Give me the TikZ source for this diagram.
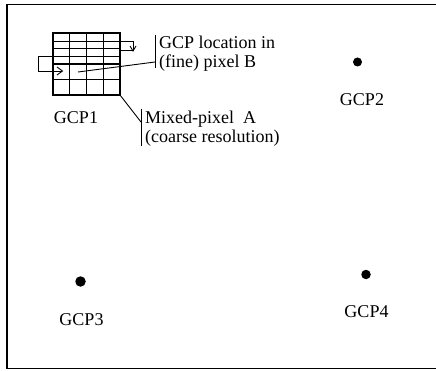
\documentclass[tikz,border=0pt]{standalone}
\usepackage{fontspec}
\setmainfont{Liberation Serif}
\usetikzlibrary{arrows.meta}
\tikzset{
  lbl/.style={font=\fontsize{18}{19}\selectfont, inner sep=0pt, align=left},
  gcpdot/.style={circle, fill=black, inner sep=0pt},
  gridline/.style={line width=1.1pt},
  gridframe/.style={line width=2pt},
  leader/.style={line width=0.9pt},
  scanline/.style={line width=0.9pt},
}
\begin{document}
\begin{tikzpicture}[x=1pt,y=-1pt]
\useasboundingbox (0,0) rectangle (436,371);
% frame
\draw[line width=1.4pt] (436.2,4.5) -- (7,4.5) -- (7,368.5) -- (436.2,368.5) -- cycle;
% grid of fine pixels (mixed-pixel A)
\foreach \i in {1,2,3}{
  \draw[gridline] ({53+\i*16.75},33) -- ({53+\i*16.75},95);
  \draw[gridline] (53,{33+\i*15.5}) -- (120,{33+\i*15.5});
}
\draw[gridframe] (53,33) rectangle (120,95);
\coordinate (gTL) at (53,33);
\coordinate (gBR) at (120,95);
% scan path
\coordinate (s1a) at (53,41);
\coordinate (s1b) at (133,41);
\coordinate (s1c) at (133,50.5);
\coordinate (s1d) at (120,50.5);
\draw[scanline] (s1a) -- (s1b) -- (s1c) -- (s1d);
\draw[scanline] (130,46) -- (133,51) -- (136,46);
\coordinate (s2a) at (120,56.5);
\coordinate (s2b) at (38,56.5);
\coordinate (s2c) at (38,71);
\coordinate (s2d) at (62,71);
\draw[scanline] (s2a) -- (s2b) -- (s2c) -- (s2d);
\draw[scanline] (57,67) -- (62.5,71) -- (57,75);
% pixel B
\coordinate (pixB) at (78,72);
% label GCP location
\node[lbl, anchor=north west] (locB) at (159,36) {GCP location in\\(fine) pixel B};
\coordinate (barBt) at (155,35);
\coordinate (barBb) at (155,68);
\coordinate (barBm) at (155,62);
\draw[leader] (barBt) -- (barBb);
\draw[leader] (pixB) -- (barBm);
% label mixed pixel
\node[lbl, anchor=north west] (mixA) at (145,111) {Mixed-pixel\ \ A\\(coarse resolution)};
\coordinate (barAt) at (141,109);
\coordinate (barAb) at (141,146);
\coordinate (barAm) at (141,122);
\draw[leader] (barAt) -- (barAb);
\draw[leader] (gBR) -- (barAm);
% GCP labels
\node[lbl, anchor=base] (gcp1) at (76,124) {GCP1};
\node[gcpdot, minimum size=9pt] (d2) at (357.5,62) {};
\node[lbl, anchor=base] (gcp2) at (362,106) {GCP2};
\node[gcpdot, minimum size=10.5pt] (d3) at (80.5,281.5) {};
\node[lbl, anchor=base] (gcp3) at (81.5,325) {GCP3};
\node[gcpdot, minimum size=9.5pt] (d4) at (366,274.5) {};
\node[lbl, anchor=base] (gcp4) at (366.5,317) {GCP4};
\end{tikzpicture}
\end{document}
